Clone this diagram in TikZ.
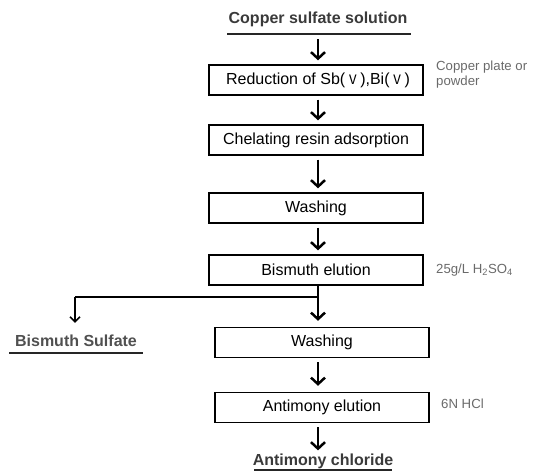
\documentclass[tikz,border=0pt]{standalone}
\usepackage{fontspec}
\setmainfont{Liberation Sans}
\newfontfamily\cjkfont{Noto Sans CJK SC}
\usetikzlibrary{arrows.meta}
\definecolor{headgray}{HTML}{3A3A3A}
\definecolor{prodgray}{HTML}{505050}
\definecolor{notegray}{HTML}{6A6A6A}
\newcommand{\romanfive}{\hspace{1pt}{\cjkfont\fontsize{13}{14}\selectfont Ⅴ}\hspace{1pt}}
\tikzset{
  stepbox/.style={draw, line width=1.4pt, minimum width=214pt, minimum height=30pt,
    inner sep=0pt, font=\fontsize{16}{19}\selectfont},
  headtext/.style={font=\bfseries\fontsize{16}{19}\selectfont, inner sep=0pt},
  notetext/.style={font=\fontsize{13.2}{15}\selectfont, text=notegray, inner sep=0pt, align=left},
  uline/.style={line width=1.3pt, draw=black!85},
  flow/.style={line width=2.5pt, -{Straight Barb[length=6.5pt,width=14pt,line width=2.5pt]}},
  sideflow/.style={line width=1.6pt, -{Straight Barb[length=5pt,width=10pt,line width=1.6pt]}},
  branch/.style={line width=2pt}
}
\begin{document}
\begin{tikzpicture}[x=1pt,y=-1pt]
\useasboundingbox (0,0) rectangle (534,475);
\coordinate (spine) at (318,0);

% feed
\node[headtext, text=headgray] (feed) at (318,19) {Copper sulfate solution};
\draw[uline] (227,34) -- (411,34);
\coordinate (feedline) at (318,34);

% process steps
\node[stepbox] (reduce) at (316,80) {\hspace{4pt}Reduction of Sb(\romanfive),Bi(\romanfive)};
\node[stepbox] (adsorb) at (316,140) {Chelating resin adsorption};
\node[stepbox] (wash1) at (316,208) {Washing};
\node[stepbox] (bielute) at (316,270) {Bismuth elution};
\node[stepbox] (wash2) at (322,342.5) {Washing};
\node[stepbox] (sbelute) at (322,407.5) {Antimony elution};

% reagents
\node[notetext, anchor=north west] (cu) at (436,61) {Copper plate or\\powder};
\node[notetext, anchor=west] (acid) at (436,270) {25g/L H\textsubscript{2}SO\textsubscript{4}};
\node[notetext, anchor=west] (hcl) at (441,404) {6N HCl};

% products
\node[headtext, text=prodgray] (bisulf) at (76,341) {Bismuth Sulfate};
\draw[uline] (9,353) -- (143,353);
\node[headtext, text=headgray] (sbcl) at (323,461) {Antimony chloride};
\draw[uline] (254,470) -- (392,470);

% main flow
\draw[flow, shorten <=5pt, shorten >=4pt] (feedline) -- (reduce.north -| spine);
\draw[flow, shorten <=4pt, shorten >=4pt] (reduce.south -| spine) -- (adsorb.north -| spine);
\draw[flow, shorten <=4pt, shorten >=4pt] (adsorb.south -| spine) -- (wash1.north -| spine);
\draw[flow, shorten <=4pt, shorten >=4pt] (wash1.south -| spine) -- (bielute.north -| spine);
\draw[flow, shorten >=6pt] (bielute.south -| spine) -- (wash2.north -| spine);
\draw[flow, shorten <=4pt, shorten >=6pt] (wash2.south -| spine) -- (sbelute.north -| spine);
\draw[flow, shorten <=4pt, shorten >=3pt] (sbelute.south -| spine) -- (sbcl.north -| spine);

% bismuth branch
\coordinate (split) at (318,297);
\coordinate (bend) at (75,297);
\draw[branch] (split) -- (bend);
\draw[sideflow, shorten >=12pt] (bend) -- (bisulf.north -| bend);
\end{tikzpicture}
\end{document}
